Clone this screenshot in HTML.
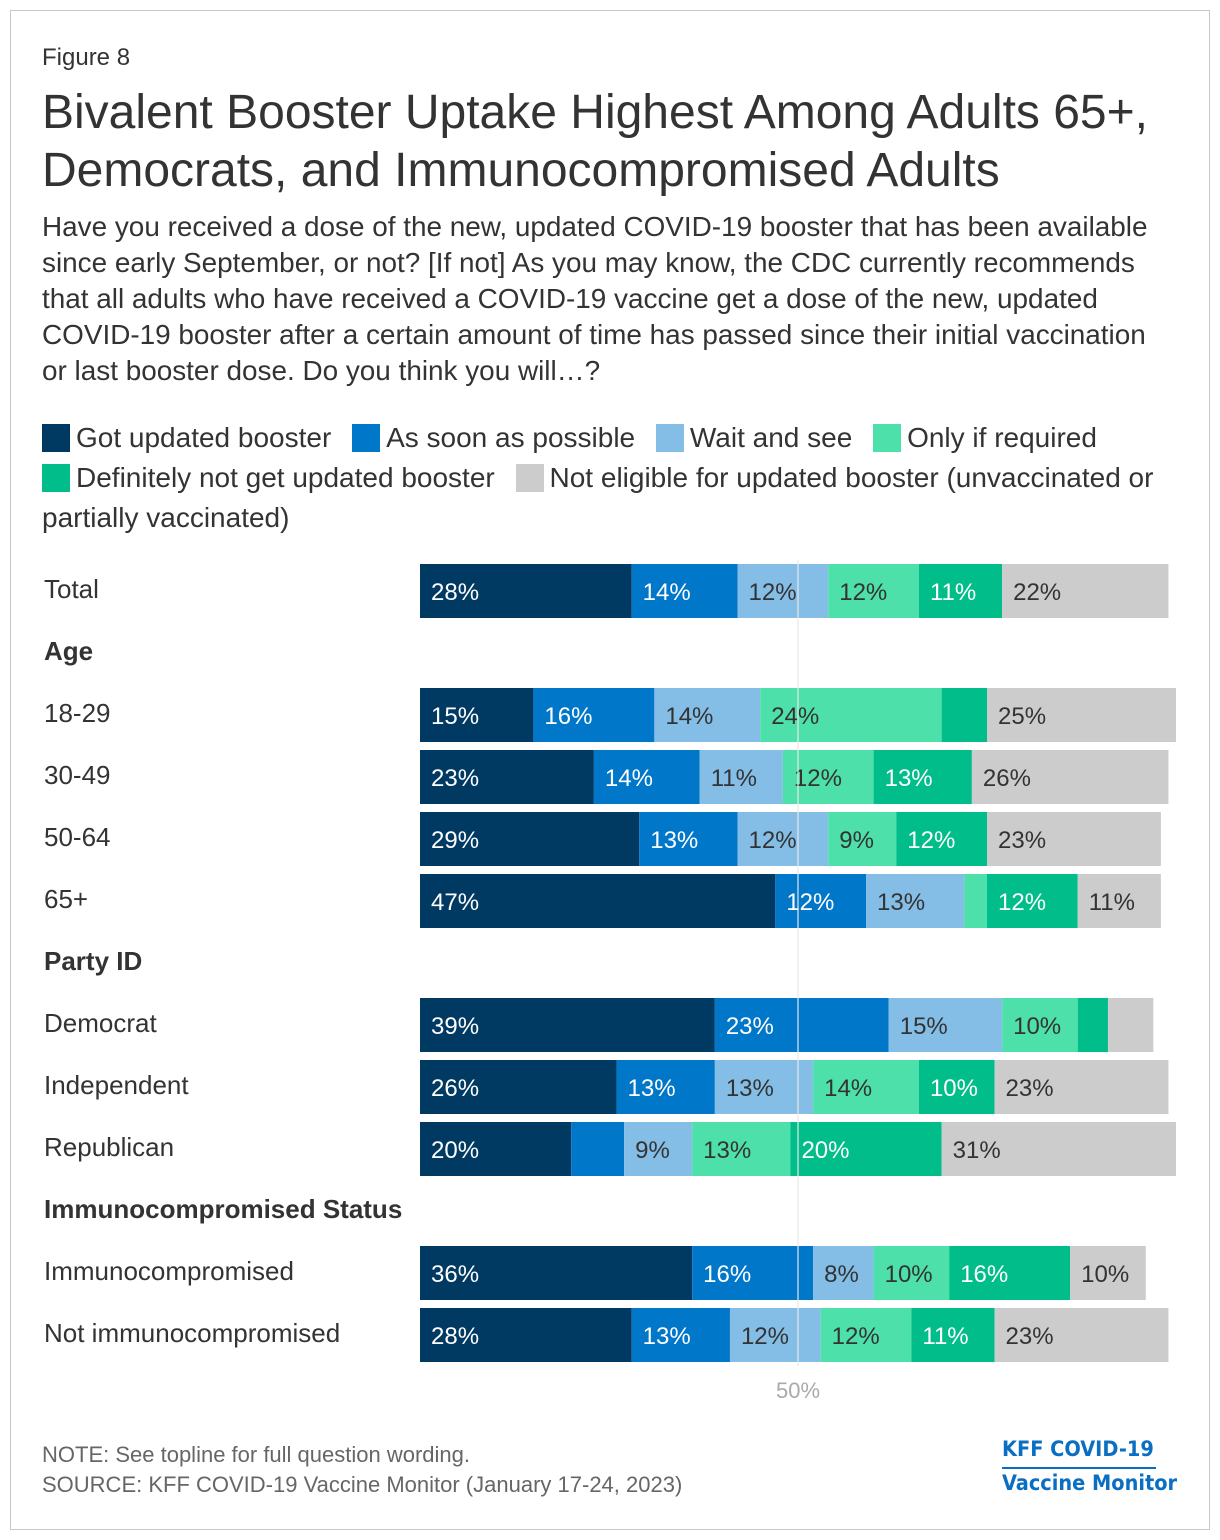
<!DOCTYPE html>
<html><head><meta charset="utf-8">
<style>
body{margin:0;width:1220px;height:1540px;background:#fff;font-family:"Liberation Sans",Arial,sans-serif;position:relative;overflow:hidden}
.frame{position:absolute;left:10px;top:10px;width:1198px;height:1518px;border:1px solid #c8c8c8}
.abs{position:absolute;white-space:nowrap}
.fig{left:42px;top:44px;font-size:24px;color:#333}
.title{left:42px;top:84px;font-size:48px;color:#333;line-height:58px;white-space:normal;width:1160px}
.sub{left:42px;top:209px;font-size:27.9px;color:#333;line-height:36px;white-space:normal;width:1122px}
.legend{left:42px;top:418px;width:1150px;font-size:28px;color:#333;line-height:40px;white-space:normal}
.sw{display:inline-block;width:28px;height:28px;vertical-align:-5px;margin-right:6px}
.li{margin-right:13px}
.rowlab{left:44px;font-size:26px;color:#333}
.sec{left:44px;font-size:26px;font-weight:bold;color:#333}
.foot{left:42px;font-size:22px;color:#666}
.logo{left:1002px;font-size:21.5px;font-weight:bold;color:#0a6fc2;font-family:"DejaVu Sans Condensed","Liberation Sans",sans-serif}
</style></head><body>
<div class="frame"></div>
<div class="abs fig">Figure 8</div>
<div class="abs title">Bivalent Booster Uptake Highest Among Adults 65+, Democrats, and Immunocompromised Adults</div>
<div class="abs sub">Have you received a dose of the new, updated COVID-19 booster that has been available since early September, or not? [If not] As you may know, the CDC currently recommends that all adults who have received a COVID-19 vaccine get a dose of the new, updated COVID-19 booster after a certain amount of time has passed since their initial vaccination or last booster dose. Do you think you will…?</div>
<div class="abs legend">
<span class="li"><span class="sw" style="background:#003a63"></span>Got updated booster</span>
<span class="li"><span class="sw" style="background:#0077c8"></span>As soon as possible</span>
<span class="li"><span class="sw" style="background:#84bde6"></span>Wait and see</span>
<span class="li"><span class="sw" style="background:#4de0aa"></span>Only if required</span><br>
<span class="li"><span class="sw" style="background:#00bd8a"></span>Definitely not get updated booster</span>
<span><span class="sw" style="background:#cccccc"></span>Not eligible for updated booster (unvaccinated or partially vaccinated)</span>
</div>
<svg id="chart" class="abs" style="left:0;top:0" width="1220" height="1540"></svg>
<div class="abs foot" style="top:1442px">NOTE: See topline for full question wording.</div>
<div class="abs foot" style="top:1472px">SOURCE: KFF COVID-19 Vaccine Monitor (January 17-24, 2023)</div>
<div class="abs logo" style="top:1437px">KFF COVID-19</div>
<div class="abs" style="left:1002px;top:1467px;width:154px;height:2px;background:#0a6fc2"></div>
<div class="abs logo" style="top:1471px">Vaccine Monitor</div>
<script>
const categories=["Total","18-29","30-49","50-64","65+","Democrat","Independent","Republican","Immunocompromised","Not immunocompromised"];
const gotBooster=[28,15,23,29,47,39,26,20,36,28];
const asSoon=[14,16,14,13,12,23,13,7,16,13];
const waitSee=[12,14,11,12,13,15,13,9,8,12];
const onlyRequired=[12,24,12,9,3,10,14,13,10,12];
const definitelyNot=[11,6,13,12,12,4,10,20,16,11];
const notEligible=[22,25,26,23,11,6,23,31,10,23];
const sections=[["Age",1],["Party ID",5],["Immunocompromised Status",8]];
const seriesNames=["got","asap","wait","required","definitely-not","not-eligible"];
const series=[gotBooster,asSoon,waitSee,onlyRequired,definitelyNot,notEligible];
const colors=["#003a63","#0077c8","#84bde6","#4de0aa","#00bd8a","#cccccc"];
const textCol=["#fff","#fff","#333","#333","#fff","#333"];
const x0=420,pxPer=7.56;
const xs=v=>x0+v*pxPer;
const rowTop=[564,688,750,812,874,998,1060,1122,1246,1308];
const svg=document.getElementById('chart');
const ns="http://www.w3.org/2000/svg";
categories.forEach((c,i)=>{
  const d=document.createElement('div');
  d.className='abs rowlab';d.style.top=(rowTop[i]+10)+'px';d.textContent=c;
  
  
  document.body.appendChild(d);
  let cum=0;
  series.forEach((s,k)=>{
    const v=s[i];
    const r=document.createElementNS(ns,'rect');
    r.setAttribute('x',xs(cum));r.setAttribute('y',rowTop[i]);
    r.setAttribute('width',v*pxPer);r.setAttribute('height',54);r.setAttribute('fill',colors[k]);
    
    
    svg.appendChild(r);
    if(v>=8){
      const t=document.createElementNS(ns,'text');
      t.setAttribute('x',xs(cum)+11);t.setAttribute('y',rowTop[i]+36);
      t.setAttribute('font-size','24');t.setAttribute('fill',textCol[k]);
      t.setAttribute('font-family','Liberation Sans, sans-serif');
      t.textContent=v+'%';
      
      
      svg.appendChild(t);
    }
    cum+=v;
  });
});
sections.forEach(([s,i])=>{
  const d=document.createElement('div');
  d.className='abs sec';d.style.top=(rowTop[i]-52)+'px';d.textContent=s;
  
  
  document.body.appendChild(d);
});
const ln=document.createElementNS(ns,'line');
ln.setAttribute('x1',xs(50));ln.setAttribute('x2',xs(50));ln.setAttribute('y1',560);ln.setAttribute('y2',1366);
ln.setAttribute('stroke','#e8e8e8');ln.setAttribute('stroke-width','1.5');ln.setAttribute('opacity','0.8');


svg.appendChild(ln);
const lt=document.createElementNS(ns,'text');
lt.setAttribute('x',xs(50));lt.setAttribute('y',1398);lt.setAttribute('text-anchor','middle');
lt.setAttribute('font-size','22');lt.setAttribute('fill','#aaa');lt.setAttribute('font-family','Liberation Sans, sans-serif');
lt.textContent='50%';


svg.appendChild(lt);
</script>
</body></html>
